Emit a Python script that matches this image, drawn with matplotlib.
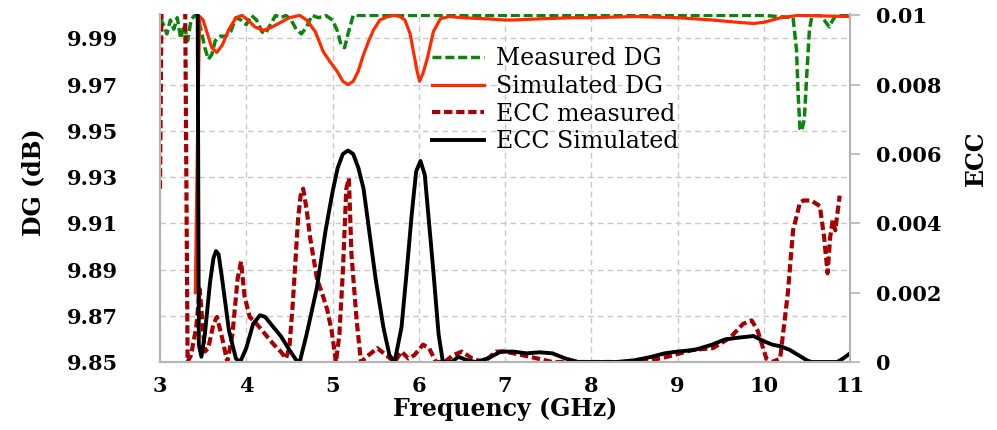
import matplotlib
matplotlib.use("Agg")
import matplotlib.pyplot as plt

plt.rcParams['font.family'] = ['DejaVu Serif']

# Measured diversity gain (dB)
dg_meas_f = [3.00, 3.04, 3.08, 3.12, 3.16, 3.20, 3.24, 3.28, 3.32, 3.36, 3.40, 3.44,
             3.48, 3.52, 3.56, 3.60, 3.64, 3.70, 3.76, 3.82, 3.88, 3.94, 4.00, 4.06,
             4.12, 4.18, 4.22, 4.28, 4.34, 4.40, 4.46, 4.52, 4.58, 4.64, 4.70, 4.76,
             4.84, 4.92, 5.00, 5.06, 5.10, 5.14, 5.18, 5.24, 5.40, 6.00, 7.00, 8.00,
             9.00, 10.00, 10.34, 10.38, 10.40, 10.42, 10.44, 10.47, 10.50, 10.53,
             10.56, 10.66, 10.72, 10.76, 10.80, 10.84, 11.00]
dg_meas = [9.999, 9.996, 9.992, 9.998, 9.994, 9.999, 9.990, 9.996, 9.989, 9.998, 10.000, 9.999,
           9.993, 9.986, 9.981, 9.983, 9.989, 9.991, 9.991, 9.993, 9.999, 9.998, 9.996, 10.000,
           9.998, 9.993, 9.992, 9.996, 10.000, 9.999, 10.000, 9.998, 9.994, 9.992, 9.995, 10.000,
           9.999, 10.000, 9.998, 9.993, 9.987, 9.986, 9.992, 10.000, 10.000, 10.000, 10.000, 10.000,
           10.000, 10.000, 9.999, 9.985, 9.965, 9.951, 9.950, 9.955, 9.975, 9.994,
           10.000, 10.000, 9.997, 9.995, 9.998, 10.000, 10.000]

# Simulated diversity gain (dB)
dg_sim_f = [3.41, 3.44, 3.46, 3.50, 3.55, 3.60, 3.66, 3.72, 3.80, 3.88, 3.95, 4.02,
            4.10, 4.20, 4.30, 4.40, 4.50, 4.62, 4.70, 4.80, 4.89, 4.97, 5.05, 5.12,
            5.18, 5.24, 5.30, 5.35, 5.42, 5.48, 5.55, 5.64, 5.72, 5.78, 5.84, 5.90,
            5.94, 5.98, 6.01, 6.05, 6.10, 6.17, 6.25, 6.35, 6.50, 6.80, 7.00, 7.10,
            7.40, 7.80, 8.00, 8.50, 9.00, 9.40, 9.70, 9.88, 10.00, 10.20, 10.40, 11.00]
dg_sim = [9.880, 9.960, 9.9995, 9.998, 9.992, 9.986, 9.984, 9.987, 9.994, 9.999, 10.000, 9.998,
          9.995, 9.9935, 9.995, 9.997, 9.999, 10.000, 9.998, 9.993, 9.9845, 9.980, 9.976, 9.9715,
          9.970, 9.9715, 9.976, 9.982, 9.989, 9.994, 9.998, 9.9995, 10.000, 9.9995, 9.998, 9.992,
          9.984, 9.976, 9.9715, 9.975, 9.9815, 9.993, 9.9985, 9.9995, 9.999, 9.9985, 9.998, 9.998,
          9.9985, 9.999, 9.999, 9.9995, 9.999, 9.998, 9.997, 9.9965, 9.997, 9.999, 10.000, 9.9995]

# Measured envelope correlation coefficient
ecc_meas_f = [3.00, 3.02, 3.10, 3.20, 3.29, 3.32, 3.36, 3.42, 3.46, 3.49, 3.52, 3.56,
              3.62, 3.66, 3.72, 3.78, 3.84, 3.90, 3.94, 3.98, 4.04, 4.12, 4.22, 4.32,
              4.40, 4.46, 4.50, 4.54, 4.60, 4.63, 4.66, 4.70, 4.74, 4.82, 4.89, 4.94,
              4.99, 5.04, 5.08, 5.12, 5.16, 5.19, 5.22, 5.28, 5.33, 5.42, 5.52, 5.62,
              5.72, 5.80, 5.88, 5.95, 6.05, 6.12, 6.20, 6.30, 6.40, 6.50, 6.62, 6.75,
              6.90, 7.00, 7.29, 7.55, 8.00, 8.60, 8.88, 9.18, 9.41, 9.61, 9.76, 9.86,
              9.93, 10.03, 10.10, 10.19, 10.28, 10.34, 10.42, 10.46, 10.55, 10.65, 10.70,
              10.74, 10.77, 10.80, 10.83, 10.88]
ecc_meas = [0.0050, 0.0110, 0.0150, 0.0150, 0.0110, 0.0000, 0.0002, 0.0010, 0.0021, 0.0012, 0.0003, 0.0004,
            0.0011, 0.0013, 0.0007, 0.0000, 0.0008, 0.0024, 0.0029, 0.0019, 0.0013, 0.0011, 0.0008, 0.0005,
            0.0003, 0.0001, 0.0004, 0.0017, 0.0041, 0.0048, 0.0050, 0.0044, 0.0036, 0.0024, 0.0019, 0.0015,
            0.0009, 0.0000, 0.0008, 0.0026, 0.0050, 0.0053, 0.0031, 0.0012, 0.0000, 0.0002, 0.0004, 0.0002,
            0.0000, 0.0003, 0.0001, 0.0002, 0.0005, 0.0004, 0.0000, 0.0000, 0.0002, 0.0003, 0.0001, 0.0000,
            0.0003, 0.0003, 0.00015, 0.0000, 0.0000, 0.0000, 0.00015, 0.00035, 0.0004, 0.0007, 0.0011, 0.0012,
            0.0009, 0.0001, 0.0000, 0.0001, 0.0020, 0.0038, 0.0046, 0.00466, 0.00466, 0.0045, 0.0036,
            0.00256, 0.0036, 0.0041, 0.0038, 0.0048]

# Simulated envelope correlation coefficient
ecc_sim_f = [3.41, 3.45, 3.48, 3.52, 3.58, 3.62, 3.65, 3.68, 3.72, 3.80, 3.88, 3.93,
             4.00, 4.08, 4.16, 4.22, 4.30, 4.40, 4.50, 4.58, 4.62, 4.70, 4.82, 4.92,
             5.00, 5.06, 5.12, 5.18, 5.24, 5.30, 5.36, 5.43, 5.50, 5.59, 5.66, 5.72,
             5.80, 5.86, 5.92, 5.97, 6.02, 6.07, 6.12, 6.17, 6.23, 6.28, 6.38, 6.46,
             6.56, 6.66, 6.80, 6.95, 7.10, 7.25, 7.40, 7.55, 7.70, 7.85, 8.00, 8.30,
             8.50, 8.70, 8.85, 9.00, 9.20, 9.40, 9.55, 9.70, 9.88, 10.00, 10.10, 10.20,
             10.30, 10.40, 10.50, 10.55, 10.85, 10.92, 11.00]
ecc_sim = [0.0300, 0.0005, 0.00015, 0.0008, 0.0023, 0.0030, 0.0032, 0.0031, 0.0024, 0.0009, 0.0001, 0.0000,
           0.0004, 0.0011, 0.00135, 0.0013, 0.00105, 0.00075, 0.00035, 0.00005, 0.0000, 0.0008, 0.00215, 0.0038,
           0.0049, 0.0056, 0.0060, 0.0061, 0.0060, 0.0056, 0.0050, 0.0037, 0.0024, 0.0010, 0.0002, 0.0000,
           0.0010, 0.0026, 0.0043, 0.0055, 0.0058, 0.0054, 0.0040, 0.0026, 0.0008, 0.0000, 0.0000, 0.00015,
           0.00005, 0.0000, 0.0001, 0.0003, 0.0003, 0.00025, 0.00028, 0.00025, 0.0001, 0.0000, 0.0000, 0.0000,
           0.00005, 0.00015, 0.00025, 0.0003, 0.00035, 0.0005, 0.00065, 0.0007, 0.00075, 0.0006, 0.0005, 0.00045,
           0.00035, 0.0002, 0.00005, 0.0000, 0.0000, 0.0001, 0.00025]

x_ticks = [3, 4, 5, 6, 7, 8, 9, 10, 11]
dg_ticks = [9.85, 9.87, 9.89, 9.91, 9.93, 9.95, 9.97, 9.99]
dg_tick_labels = ['9.85', '9.87', '9.89', '9.91', '9.93', '9.95', '9.97', '9.99']
ecc_ticks = [0, 0.002, 0.004, 0.006, 0.008, 0.01]
ecc_tick_labels = ['0', '0.002', '0.004', '0.006', '0.008', '0.01']

GREEN = '#0a850a'
ORANGE = '#ff2a00'
DARKRED = '#a80000'
SPINE = '#b4b4b4'
GRID = '#c8c8c8'

fig = plt.figure(figsize=(9.97, 4.30), dpi=100)
ax = fig.add_axes([160 / 997, 1 - 362 / 430, 690 / 997, 348 / 430])
ax2 = ax.twinx()

# small headroom above 10.0 dB / 0.01 so lines sitting on the top edge are not cut
top_pad = 0.0006
ax.set_xlim(3, 11)
ax.set_ylim(9.85, 10.0 + top_pad)
ax2.set_ylim(0, 0.01 + top_pad / 0.15 * 0.01)

l1, = ax.plot(dg_meas_f, dg_meas, color=GREEN, lw=2.5, linestyle=(0, (2.6, 1.1)),
              label='Measured DG')
l2, = ax.plot(dg_sim_f, dg_sim, color=ORANGE, lw=2.3, label='Simulated DG')
l3, = ax2.plot(ecc_meas_f, ecc_meas, color=DARKRED, lw=3.0, linestyle=(0, (2.0, 0.9)),
               label='ECC measured')
l4, = ax2.plot(ecc_sim_f, ecc_sim, color='black', lw=2.8, label='ECC Simulated')

ax.set_xticks(x_ticks)
ax.set_xticklabels([str(t) for t in x_ticks])
ax.set_yticks(dg_ticks)
ax.set_yticklabels(dg_tick_labels)
ax2.set_yticks(ecc_ticks)
ax2.set_yticklabels(ecc_tick_labels)

ax.grid(True, color=GRID, linestyle=(0, (4, 3)), linewidth=1.0)
ax.set_axisbelow(True)

for a in (ax, ax2):
    a.spines['top'].set_visible(False)
    for s in ('left', 'right', 'bottom'):
        a.spines[s].set_color(SPINE)
        a.spines[s].set_linewidth(1.5)

ax.tick_params(axis='y', length=0, pad=30, labelsize=15)
ax.tick_params(axis='x', length=0, pad=10, labelsize=15)
ax2.tick_params(axis='y', length=7, width=1.2, color=SPINE, pad=12, labelsize=15)
for lab in ax.get_xticklabels() + ax.get_yticklabels() + ax2.get_yticklabels():
    lab.set_fontweight('bold')

ax.set_xlabel('Frequency (GHz)', fontsize=17, fontweight='bold')
ax.xaxis.set_label_coords(0.5, -0.135)
ax.xaxis.label.set_verticalalignment('center')
ax.set_ylabel('DG (dB)', fontsize=17, fontweight='bold')
ax.yaxis.set_label_coords(-0.184, 0.517)
ax.yaxis.label.set_verticalalignment('center')
ax2.set_ylabel('ECC', fontsize=17, fontweight='bold', rotation=90)
ax2.yaxis.set_label_coords(1.183, 0.586)
ax2.yaxis.label.set_verticalalignment('center')

leg = ax2.legend(handles=[l1, l2, l3, l4], loc='upper left',
                 bbox_to_anchor=(0.394, 0.905), frameon=False, fontsize=17,
                 handlelength=2.2, handletextpad=0.5, labelspacing=0.2,
                 borderpad=0, borderaxespad=0)

fig.savefig('out.png', dpi=100)
